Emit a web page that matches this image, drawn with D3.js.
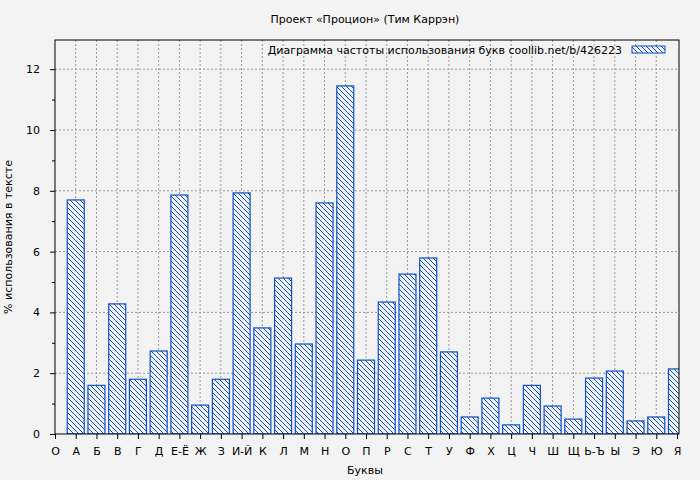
<!DOCTYPE html>
<html><head><meta charset="utf-8">
<script src="https://cdn.jsdelivr.net/npm/d3@7"></script>
<style>body{margin:0;background:#f3f3f3}text{font-family:"DejaVu Sans",sans-serif;font-size:11px;fill:#000}</style>
</head><body>
<script>
var w = 700, h = 480;
var ticks = ["О","А","Б","В","Г","Д","Е-Ё","Ж","З","И-Й","К","Л","М","Н","О","П","Р","С","Т","У","Ф","Х","Ц","Ч","Ш","Щ","Ь-Ъ","Ы","Э","Ю","Я"];
var values = [7.7,1.6,4.28,1.8,2.73,7.86,0.95,1.8,7.93,3.49,5.13,2.96,7.6,11.45,2.43,4.34,5.26,5.79,2.7,0.56,1.18,0.3,1.6,0.92,0.49,1.84,2.07,0.43,0.56,2.14];
var yTicks = [0,2,4,6,8,10,12];

var L = 55, R = 679, T = 40, B = 434;
var svg = d3.select('body').append('svg').attr('width', w).attr('height', h);
var defs = svg.append('defs');
var pat = defs.append('pattern').attr('id','hatch').attr('patternUnits','userSpaceOnUse')
  .attr('width',5).attr('height',5);
pat.append('rect').attr('width',5).attr('height',5).attr('fill','#f3f3f3');
pat.append('path').attr('d','M-1,-1 L6,6 M-1,4 L1,6 M4,-1 L6,1').attr('stroke','#0d4fc9').attr('stroke-width',1);
defs.append('clipPath').attr('id','clip').append('rect').attr('x',L).attr('y',T).attr('width',R-L).attr('height',B-T);

var x = d3.scaleLinear().domain([0, ticks.length-1]).range([L, R-2]);
var y = d3.scaleLinear().domain([0, 13]).range([B, B - 13*30.4]);

// grid
svg.append('g').selectAll('line').data(d3.range(1, ticks.length-1)).enter().append('line')
  .attr('x1', d => x(d)).attr('x2', d => x(d)).attr('y1', T).attr('y2', B)
  .attr('stroke','#999').attr('stroke-dasharray','2,2');
svg.append('g').selectAll('line').data(yTicks.slice(1)).enter().append('line')
  .attr('x1', L).attr('x2', R).attr('y1', d => y(d)).attr('y2', d => y(d))
  .attr('stroke','#999').attr('stroke-dasharray','2,2');

// bars
svg.append('g').attr('clip-path','url(#clip)').selectAll('rect').data(values).enter().append('rect')
  .attr('x', (d,i) => x(i+1) - 8.5).attr('width', 17)
  .attr('y', d => y(d)).attr('height', d => B - y(d))
  .attr('fill','url(#hatch)').attr('stroke','#0d4fc9').attr('stroke-width',1.2);

// frame
svg.append('rect').attr('x',L).attr('y',T).attr('width',R-L).attr('height',B-T)
  .attr('fill','none').attr('stroke','#000');

// axes
var yAxis = d3.axisLeft(y).tickValues(yTicks).tickSize(5).tickPadding(10).tickFormat(d3.format('d'));
svg.append('g').attr('transform','translate('+L+',0)').call(yAxis)
  .call(g => g.select('.domain').remove());
svg.append('g').attr('transform','translate('+L+',0)')
  .call(d3.axisLeft(y).tickValues(d3.range(1,13,2)).tickSize(3).tickFormat(''))
  .call(g => g.select('.domain').remove());
var xAxis = d3.axisBottom(x).tickValues(d3.range(ticks.length)).tickSize(5).tickPadding(8).tickFormat(i => ticks[i]);
svg.append('g').attr('transform','translate(0,'+B+')').call(xAxis)
  .call(g => g.select('.domain').remove());
svg.selectAll('.tick text').style('font-size','11px').style('font-family','DejaVu Sans');

// titles
svg.append('text').attr('x', 365).attr('y', 23).attr('text-anchor','middle').text('Проект «Процион» (Тим Каррэн)');
svg.append('text').attr('x', 365).attr('y', 474).attr('text-anchor','middle').text('Буквы');
svg.append('text').attr('transform','translate(12,237) rotate(-90)').attr('text-anchor','middle').text('% использования в тексте');

// legend
svg.append('text').attr('x', 622).attr('y', 54).attr('text-anchor','end')
  .text('Диаграмма частоты использования букв  coollib.net/b/426223');
svg.append('rect').attr('x', 632).attr('y', 46).attr('width', 33).attr('height', 7)
  .attr('fill','url(#hatch)').attr('stroke','#0d4fc9');
</script>
</body></html>
